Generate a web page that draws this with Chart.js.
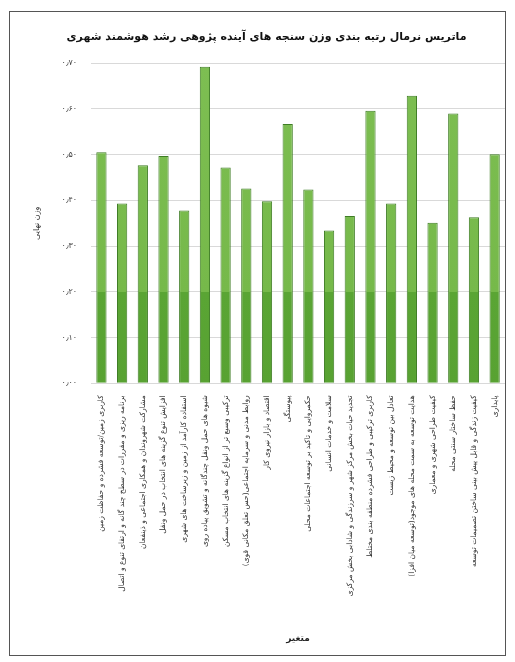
<!DOCTYPE html>
<html>
<head>
<meta charset="utf-8">
<script src="https://cdn.jsdelivr.net/npm/chart.js@4/dist/chart.umd.min.js"></script>
<style>
  html, body { margin: 0; padding: 0; background: #fff; }
  #frame { position: absolute; left: 9px; top: 11px; width: 495px; height: 643px; border: 1px solid #555; }
  #wrap { position: absolute; left: 0; top: 0; width: 515px; height: 662px; }
</style>
</head>
<body>
<div id="frame"></div>
<div id="wrap"><canvas id="chart" dir="rtl"></canvas></div>
<script>
'use strict';

// ── Data ──────────────────────────────────────
const CATEGORIES = [
  'کاربری زمین/توسعه فشرده و حفاظت زمین',
  'برنامه ریزی و مقررات در سطح چند گانه و ارتقای تنوع و اتصال',
  'مشارکت شهروندان و همکاری اجتماعی و ذینفعان',
  'افزایش تنوع گزینه های انتخاب در حمل ونقل',
  'استفاده کارآمد از زمین و زیرساخت های شهری',
  'شیوه های حمل ونقل چندگانه و تشویق پیاده روی',
  'ترکیبی وسیع تر از انواع گزینه های انتخاب مسکن',
  'روابط مدنی و سرمایه اجتماعی(حس تعلق مکانی قوی)',
  'اقتصاد و بازار نیروی کار',
  'پیوستگی',
  'حکمروایی و تاکید بر توسعه اجتماعات محلی',
  'سلامت و خدمات انسانی',
  'تجدید حیات بخش مرکز شهر و سرزندگی و شادابی بخش مرکزی',
  'کاربری ترکیبی و طراحی فشرده منطقه بندی مختلط',
  'تعادل بین توسعه و محیط زیست',
  'هدایت توسعه به سمت محله های موجود(توسعه میان افزا)',
  'کیفیت طراحی شهری و معماری',
  'حفظ ساختار سنتی محله',
  'کیفیت زندگی و قابل پیش بینی ساختن تصمیمات توسعه',
  'پایداری'
];

const WEIGHTS = [
  0.505, 0.393, 0.477, 0.497, 0.378, 0.692, 0.472, 0.426, 0.398, 0.567,
  0.424, 0.334, 0.366, 0.596, 0.393, 0.629, 0.351, 0.590, 0.363, 0.501
];

const Y_TICKS = ['۰٫۰۰', '۰٫۱۰', '۰٫۲۰', '۰٫۳۰', '۰٫۴۰', '۰٫۵۰', '۰٫۶۰', '۰٫۷۰'];

const TITLE   = 'ماتریس نرمال رتبه بندی وزن سنجه های آینده پژوهی رشد هوشمند شهری';
const X_TITLE = 'متغیر';
const Y_TITLE = 'وزن نهایی';

const FONT = "'DejaVu Sans', sans-serif";

// ── Bar fill: lighter top, darker band below 0.2 ──
function barFill(ctx) {
  const chart = ctx.chart;
  const area = chart.chartArea;
  if (!area) return '#6cb040';
  const y = chart.scales.y;
  const split = (y.getPixelForValue(0.2) - area.top) / (area.bottom - area.top);
  const g = chart.ctx.createLinearGradient(0, area.top, 0, area.bottom);
  g.addColorStop(0, '#7dbe52');
  g.addColorStop(Math.max(0, split - 0.001), '#76b94a');
  g.addColorStop(Math.min(1, split + 0.001), '#5aa534');
  g.addColorStop(1, '#58a232');
  return g;
}

new Chart(document.getElementById('chart').getContext('2d'), {
  type: 'bar',
  data: {
    labels: CATEGORIES,
    datasets: [{
      data: WEIGHTS,
      backgroundColor: barFill,
      borderColor: '#3f7d25',
      borderWidth: 1,
      barPercentage: 0.55,
      categoryPercentage: 0.9
    }]
  },
  options: {
    responsive: true, maintainAspectRatio: false, animation: false,
    layout: { padding: { left: 28, right: 10, top: 20, bottom: 18 } },
    plugins: {
      legend: { display: false },
      tooltip: { enabled: false },
      title: {
        display: true, text: TITLE, color: '#111',
        font: { family: FONT, size: 11, weight: 'bold' },
        padding: { top: 11, bottom: 19 }
      }
    },
    scales: {
      x: {
        grid: { display: false },
        border: { display: false },
        ticks: {
          autoSkip: false, maxRotation: 90, minRotation: 90,
          color: '#333', font: { family: FONT, size: 7.5 }, padding: 4
        },
        title: {
          display: true, text: X_TITLE, color: '#222',
          font: { family: FONT, size: 9, weight: 'bold' },
          padding: { top: 33, bottom: 0 }
        }
      },
      y: {
        min: 0, max: 0.7,
        grid: { color: '#d9d9d9', drawTicks: false },
        border: { display: false },
        ticks: {
          stepSize: 0.1, padding: 14, color: '#444',
          font: { family: FONT, size: 8 },
          callback: (v, i) => Y_TICKS[i]
        },
        title: {
          display: true, text: Y_TITLE, color: '#333',
          font: { family: FONT, size: 8 }, padding: { bottom: 6 }
        }
      }
    }
  }
});
</script>
</body>
</html>
